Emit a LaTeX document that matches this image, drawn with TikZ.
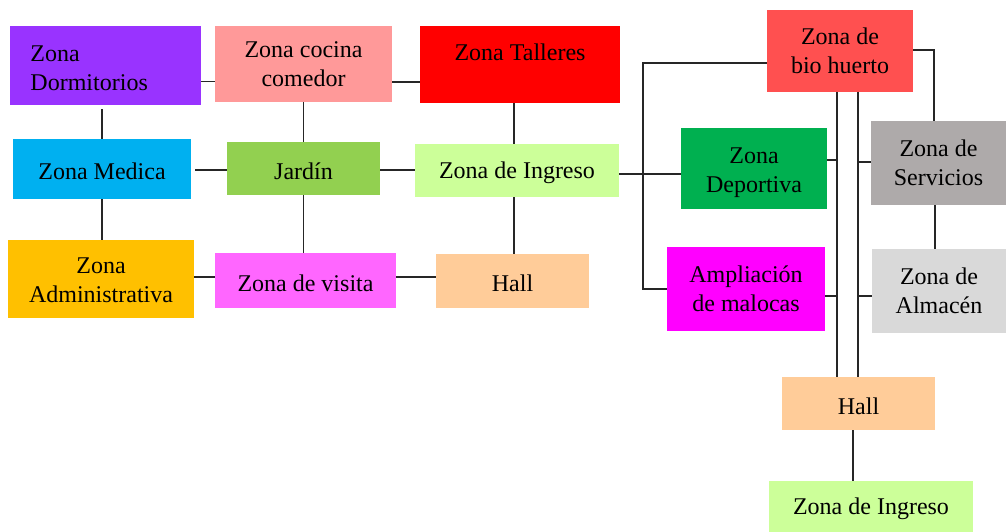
\documentclass[tikz,border=0pt]{standalone}
\usepackage{fontspec}
\setmainfont{Liberation Serif}
\usetikzlibrary{positioning}
\definecolor{cDorm}{HTML}{9933FF}
\definecolor{cCoc}{HTML}{FF9999}
\definecolor{cTal}{HTML}{FF0000}
\definecolor{cMed}{HTML}{00B0F0}
\definecolor{cJar}{HTML}{92D050}
\definecolor{cIng}{HTML}{CCFF99}
\definecolor{cAdm}{HTML}{FFC000}
\definecolor{cVis}{HTML}{FF66FF}
\definecolor{cHall}{HTML}{FFCC99}
\definecolor{cBio}{HTML}{FF5050}
\definecolor{cDep}{HTML}{00B050}
\definecolor{cSer}{HTML}{AEAAAA}
\definecolor{cAlm}{HTML}{D9D9D9}
\definecolor{cAmp}{HTML}{FF00FF}
\newcommand\lowertext[2]{\raisebox{-#1}[\height][\depth]{\begin{tabular}{@{}c@{}}#2\end{tabular}}}
\tikzset{
  zone/.style={draw=none, inner sep=0pt, align=center, text=black,
    font=\fontsize{24}{29}\selectfont,
    execute at begin node={\rule{0pt}{22pt}}},
  link/.style={draw=black!85, line width=1.1pt}
}
\begin{document}
\begin{tikzpicture}[x=1pt,y=-1pt]
\useasboundingbox (0,0) rectangle (1006,532);
% left block
\node[zone, fill=cDorm, minimum width=191pt, minimum height=79pt, text width=150pt, inner xsep=20.5pt, align=left] (dorm) at (105.5,65.5) {Zona\\Dormitorios};
\node[zone, fill=cCoc, minimum width=177pt, minimum height=76pt] (cocina) at (303.5,64) {\lowertext{2.5pt}{Zona cocina\\comedor}};
\node[zone, fill=cTal, minimum width=200pt, minimum height=77pt] (talleres) at (520,64.5) {Zona Talleres\\[-14pt]\strut};
\node[zone, fill=cMed, minimum width=178pt, minimum height=60pt] (medica) at (102,169) {Zona Medica};
\node[zone, fill=cJar, minimum width=153pt, minimum height=53pt] (jardin) at (303.5,168.5) {Jardín};
\node[zone, fill=cIng, minimum width=204pt, minimum height=53pt] (ingreso) at (517,170.5) {Zona de Ingreso};
\node[zone, fill=cAdm, minimum width=186pt, minimum height=78pt] (admin) at (101,279) {\lowertext{3.5pt}{Zona\\Administrativa}};
\node[zone, fill=cVis, minimum width=181pt, minimum height=55pt] (visita) at (305.5,280.5) {Zona de visita};
\node[zone, fill=cHall, minimum width=153pt, minimum height=54pt] (hall) at (512.5,281) {Hall};
% right block
\node[zone, fill=cBio, minimum width=146pt, minimum height=82pt] (bio) at (840,51) {Zona de\\bio huerto};
\node[zone, fill=cDep, minimum width=146pt, minimum height=81pt] (deport) at (754,168.5) {\lowertext{4pt}{Zona\\Deportiva}};
\node[zone, fill=cSer, minimum width=135pt, minimum height=84pt] (serv) at (938.5,163) {Zona de\\Servicios};
\node[zone, fill=cAlm, minimum width=134pt, minimum height=84pt] (alm) at (939,291) {Zona de\\Almacén};
\node[zone, fill=cAmp, minimum width=158pt, minimum height=84pt] (ampl) at (746,289) {Ampliación\\de malocas};
\node[zone, fill=cHall, minimum width=153pt, minimum height=53pt] (hall2) at (858.5,403.5) {Hall};
\node[zone, fill=cIng, minimum width=204pt, minimum height=51pt] (ing2) at (871,506.5) {Zona de Ingreso};
\coordinate (trunk) at (643,0);
% left connectors
\draw[link] ([yshift=-16pt]dorm.east) -- ([yshift=-17.5pt]cocina.west);
\draw[link] ([yshift=-18pt]cocina.east) -- ([yshift=-17.5pt]talleres.west);
\draw[link] (medica.north) -- ++(0,-30);
\draw[link] (cocina.south) -- (jardin.north);
\draw[link] ([xshift=-6pt]talleres.south) -- ([xshift=-3pt]ingreso.north);
\draw[link] ([xshift=4pt,yshift=-1pt]medica.east) -- ([yshift=-1.5pt]jardin.west);
\draw[link] ([yshift=-1.5pt]jardin.east) -- ([yshift=0.5pt]ingreso.west);
\draw[link] (medica.south) -- ([xshift=1pt]admin.north);
\draw[link] (jardin.south) -- ([xshift=-2pt]visita.north);
\draw[link] ([xshift=-3pt]ingreso.south) -- ([xshift=1.5pt]hall.north);
\draw[link] ([yshift=2pt]admin.east) -- ([yshift=3.5pt]visita.west);
\draw[link] ([yshift=3.5pt]visita.east) -- ([yshift=4pt]hall.west);
% right connectors
\draw[link] ([yshift=-3.5pt]ingreso.east) -- ([yshift=-5.5pt]deport.west);
\draw[link] ([yshift=-12pt]bio.west) -| (trunk |- ampl.west) -- (ampl.west);
\draw[link] ([yshift=1pt]bio.east) -| ([xshift=-4.5pt]serv.north);
\draw[link] ([xshift=-3pt]bio.south) -- ([xshift=-21.5pt]hall2.north);
\draw[link] ([xshift=18pt]bio.south) -- ([xshift=-0.5pt]hall2.north);
\draw[link] ([yshift=8.5pt]deport.east) -- ++(10,0);
\draw[link] ([yshift=-7pt]ampl.east) -- ++(12,0);
\draw[link] ([yshift=1pt]serv.west) -- ++(-13,0);
\draw[link] ([yshift=-5pt]alm.west) -- ++(-14,0);
\draw[link] ([xshift=-3.5pt]serv.south) -- ([xshift=-4pt]alm.north);
\draw[link] ([xshift=-5.5pt]hall2.south) -- ([xshift=-18pt]ing2.north);
\end{tikzpicture}
\end{document}
